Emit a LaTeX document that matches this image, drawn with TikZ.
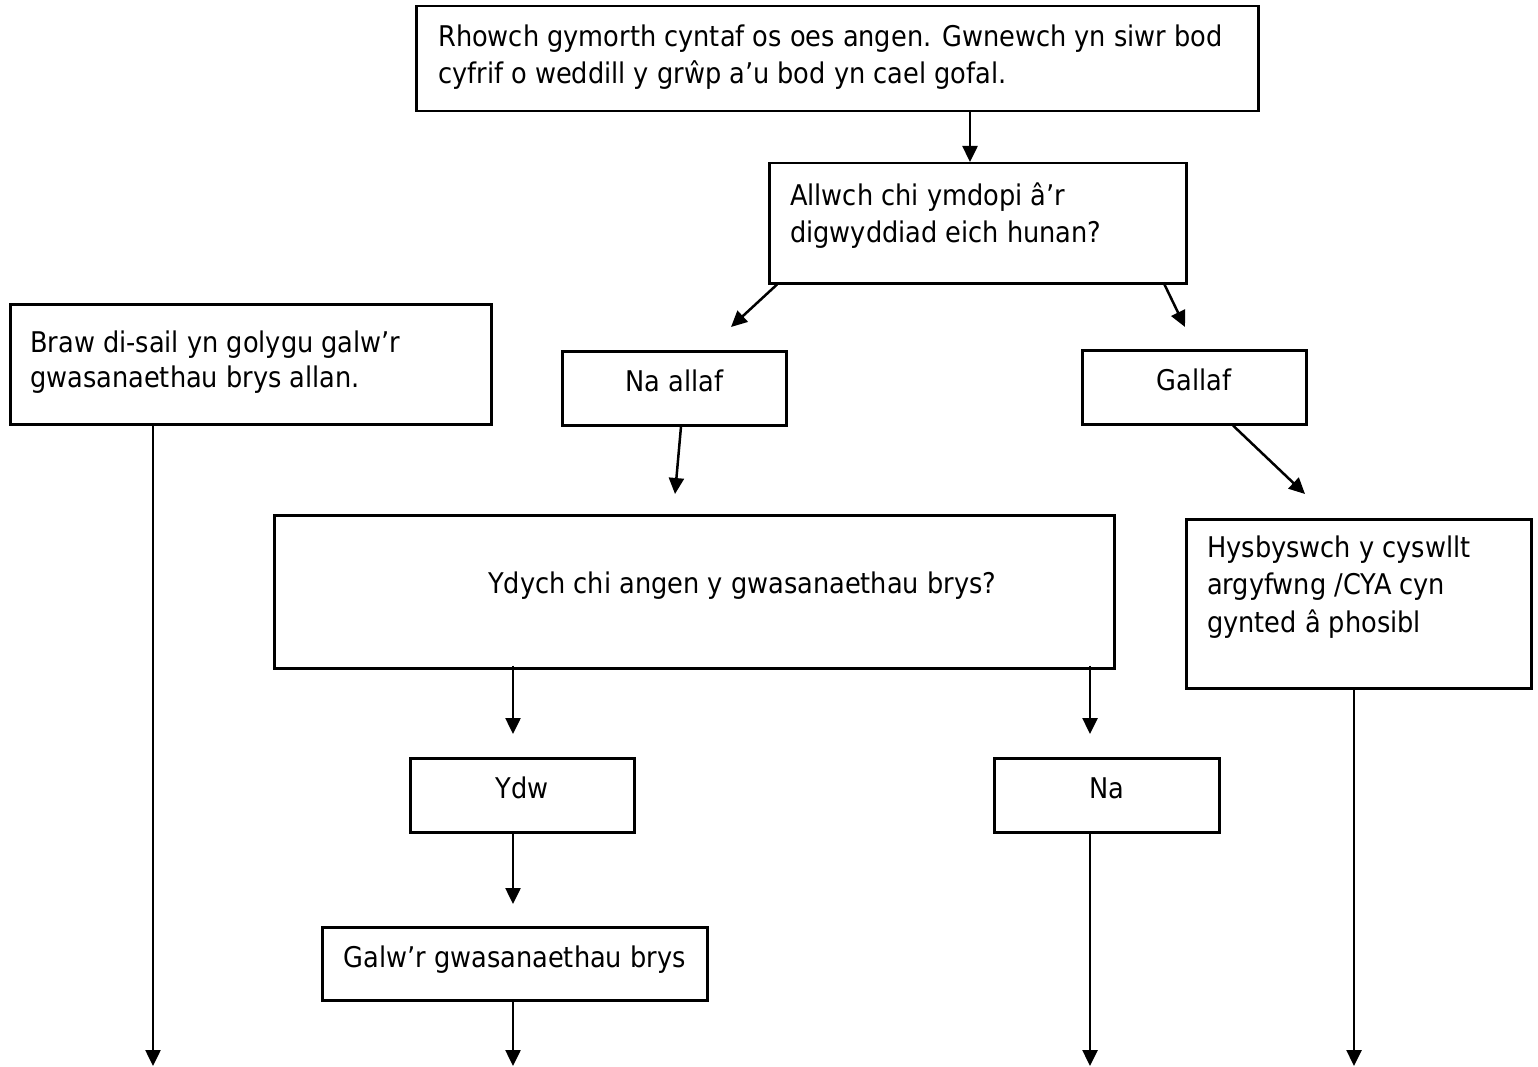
\documentclass[tikz,border=0pt]{standalone}
\usepackage{fontspec}
\setmainfont{DejaVu Sans Condensed}
\usetikzlibrary{arrows.meta,calc}
\begin{document}
\begin{tikzpicture}[x=1pt,y=-1pt,
  box/.style={draw, line width=2.5pt, rectangle, inner sep=0pt, anchor=north west,
    font=\fontsize{28.5}{37}\selectfont, text height=15pt, text depth=8pt},
  txt/.style={anchor=north west, inner sep=0pt, align=left},
  arr/.style={line width=2.5pt, -{Triangle[length=16pt,width=15pt]}}]
\useasboundingbox (0,0) rectangle (1538,1067);
\fill[white] (0,0) rectangle (1538,1067);

% boxes
\node[box, minimum width=842, minimum height=105] (top) at (415,5) {};
\node[box, minimum width=417, minimum height=120] (allwch) at (768,162) {};
\node[box, minimum width=481, minimum height=120] (braw) at (9,303) {};
\node[box, minimum width=224, minimum height=74] (naallaf) at (561,350) {Na allaf};
\node[box, minimum width=224, minimum height=74] (gallaf) at (1081,349) {Gallaf};
\node[box, minimum width=840, minimum height=153] (ydych) at (273,514) {};
\node[box, minimum width=345, minimum height=169] (hys) at (1185,518) {};
\node[box, minimum width=224, minimum height=74] (ydw) at (409,757) {Ydw};
\node[box, minimum width=225, minimum height=74] (na) at (993,757) {Na};
\node[box, minimum width=385, minimum height=73] (galw) at (321,926) {Galw’r gwasanaethau brys};

% texts
\node[txt, font=\fontsize{28.5}{37}\selectfont] (ttop) at (438,16.5)
  {\rule{0pt}{30pt}Rhowch gymorth cyntaf os oes angen. Gwnewch yn siwr bod\\cyfrif o weddill y grŵp a’u bod yn cael gofal.};
\node[txt, font=\fontsize{28.5}{37}\selectfont] (tallwch) at (790,175)
  {\rule{0pt}{30pt}Allwch chi ymdopi â’r\\digwyddiad eich hunan?};
\node[txt, font=\fontsize{28.5}{35}\selectfont] (tbraw) at (30,322)
  {\rule{0pt}{30pt}Braw di-sail yn golygu galw’r\\gwasanaethau brys allan.};
\node[txt, font=\fontsize{28.5}{37.5}\selectfont] (thys) at (1207,527)
  {\rule{0pt}{30pt}Hysbyswch y cyswllt\\argyfwng /CYA cyn\\gynted â phosibl};
\node[txt, font=\fontsize{28.5}{37}\selectfont] (tydych) at (488,563)
  {\rule{0pt}{30pt}Ydych chi angen y gwasanaethau brys?};

% free ends
\coordinate (e1) at (153,1066);
\coordinate (e2) at (513,1066);
\coordinate (e3) at (1090,1066);
\coordinate (e4) at (1354,1066);
\coordinate (c1) at ($(top.south west)+(555,0)$);

% connectors
\draw[arr] (c1) -- (c1 |- allwch.north);
\draw[arr] ($(allwch.south west)+(9,0)$) -- ($(naallaf.north west)+(170,-23)$);
\draw[arr] ($(allwch.south east)+(-24,-2)$) -- ($(gallaf.north west)+(104,-22)$);
\draw[arr] ($(naallaf.south west)+(120,0)$) -- ($(ydych.north west)+(402,-20)$);
\draw[arr] ($(gallaf.south west)+(152,0)$) -- ($(hys.north west)+(120,-24)$);
\draw[arr] ($(ydych.south west)+(240,-4)$) -- ($(ydw.north west)+(104,-23)$);
\draw[arr] ($(ydych.south west)+(817,-4)$) -- ($(na.north west)+(97,-23)$);
\draw[arr] ($(ydw.south west)+(104,0)$) -- ($(galw.north west)+(192,-22)$);
\draw[arr] (braw.south -| e1) -- (e1);
\draw[arr] (galw.south -| e2) -- (e2);
\draw[arr] (na.south -| e3) -- (e3);
\draw[arr] (hys.south -| e4) -- (e4);
\end{tikzpicture}
\end{document}
